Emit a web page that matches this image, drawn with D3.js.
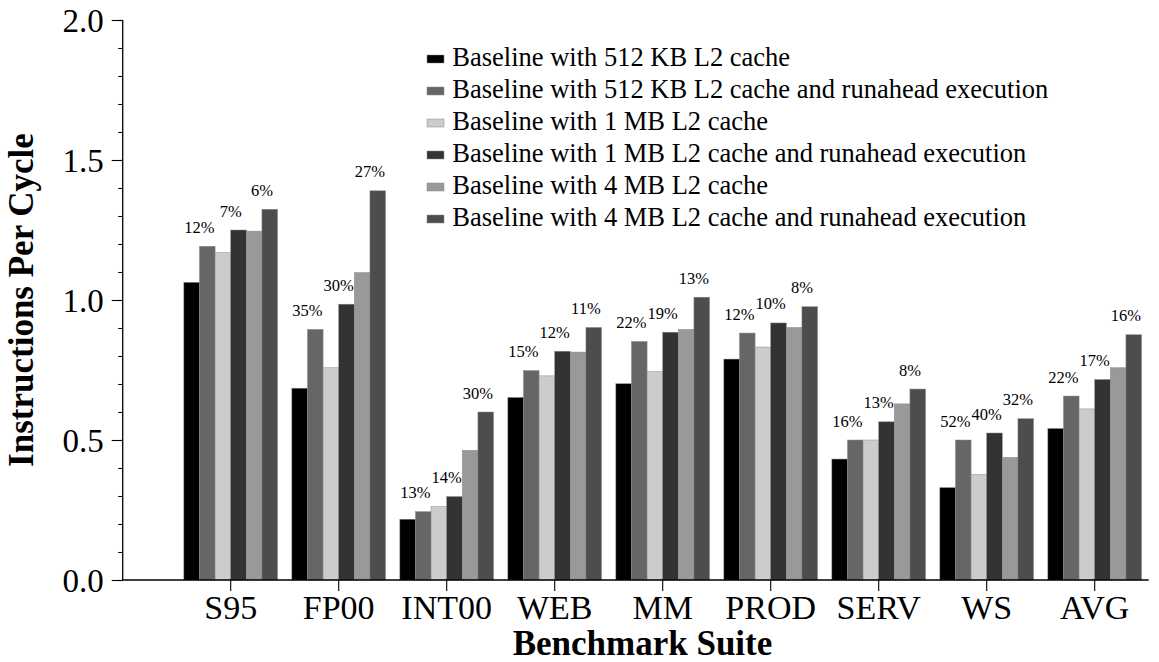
<!DOCTYPE html>
<html>
<head>
<meta charset="utf-8">
<script src="https://cdn.jsdelivr.net/npm/d3@7"></script>
<style>
  html, body { margin: 0; padding: 0; background: #fff; }
  svg { display: block; }
  text { font-family: "Liberation Serif", "Times New Roman", Times, serif; fill: #000; }
</style>
</head>
<body>
<svg id="chart" width="1159" height="662"></svg>
<script>
// Benchmark suites on the x axis
const categories = ["S95", "FP00", "INT00", "WEB", "MM", "PROD", "SERV", "WS", "AVG"];

// Series names (legend order)
const seriesNames = [
  "Baseline with 512 KB L2 cache",
  "Baseline with 512 KB L2 cache and runahead execution",
  "Baseline with 1 MB L2 cache",
  "Baseline with 1 MB L2 cache and runahead execution",
  "Baseline with 4 MB L2 cache",
  "Baseline with 4 MB L2 cache and runahead execution"
];

// Instructions per cycle, one array per configuration
const ipc512 =   [1.063, 0.685, 0.217, 0.652, 0.701, 0.789, 0.432, 0.330, 0.541];
const ipc512ra = [1.192, 0.895, 0.244, 0.748, 0.852, 0.882, 0.500, 0.500, 0.657];
const ipc1m =    [1.169, 0.758, 0.262, 0.729, 0.744, 0.832, 0.500, 0.377, 0.611];
const ipc1mra =  [1.250, 0.985, 0.298, 0.817, 0.885, 0.918, 0.565, 0.525, 0.716];
const ipc4m =    [1.246, 1.098, 0.463, 0.814, 0.895, 0.902, 0.629, 0.438, 0.758];
const ipc4mra =  [1.324, 1.390, 0.600, 0.902, 1.010, 0.976, 0.682, 0.576, 0.876];

// Runahead speedup labels over each runahead bar
const gain512 = ["12%", "35%", "13%", "15%", "22%", "12%", "16%", "52%", "22%"];
const gain1m =  ["7%", "30%", "14%", "12%", "19%", "10%", "13%", "40%", "17%"];
const gain4m =  ["6%", "27%", "30%", "11%", "13%", "8%", "8%", "32%", "16%"];

// Y axis tick labels
const yMajorTicks = [0, 0.5, 1.0, 1.5, 2.0];

const seriesValues = [ipc512, ipc512ra, ipc1m, ipc1mra, ipc4m, ipc4mra];
const seriesColors = ["#000000", "#666666", "#cccccc", "#333333", "#999999", "#4d4d4d"];
const gainLabels = [null, gain512, null, gain1m, null, gain4m];

const svg = d3.select("#chart");

const axisX = 122.7, plotTop = 20, plotBottom = 580;

const y = d3.scaleLinear().domain([0, 2]).range([plotBottom, plotTop]);
const x = d3.scaleBand().domain(categories).range([176.7, 1148.7])
  .paddingInner(0.1324).paddingOuter(0.0662);
const xs = d3.scaleBand().domain(d3.range(seriesValues.length)).range([0, x.bandwidth()]);

// Bars
const groups = svg.append("g").selectAll("g")
  .data(categories)
  .join("g")
  .attr("transform", d => `translate(${x(d)},0)`);

groups.selectAll("rect")
  .data((c, ci) => seriesValues.map((vals, si) => ({ si, v: vals[ci] })))
  .join("rect")
  .attr("x", d => xs(d.si))
  .attr("y", d => y(d.v))
  .attr("width", xs.bandwidth())
  .attr("height", d => y(0) - y(d.v))
  .attr("fill", d => seriesColors[d.si])
  .attr("stroke", "#8a8a8a")
  .attr("stroke-width", 0.5);

// Speedup labels, centred on the left edge of each runahead bar
groups.selectAll("text.gain")
  .data((c, ci) => gainLabels
    .map((labels, si) => labels ? { si, v: seriesValues[si][ci], t: labels[ci] } : null)
    .filter(Boolean))
  .join("text")
  .attr("class", "gain")
  .attr("x", d => xs(d.si))
  .attr("y", d => y(d.v) - 13.5)
  .attr("text-anchor", "middle")
  .style("font-size", "16.5px")
  .text(d => d.t);

// Y axis: minor ticks every 0.1, labelled major ticks every 0.5
const yMinor = svg.append("g")
  .attr("transform", `translate(${axisX},0)`)
  .call(d3.axisLeft(y).tickValues(d3.range(0, 2.001, 0.1)).tickSize(4.5).tickFormat(""));
yMinor.select(".domain").remove();

const yMajor = svg.append("g")
  .attr("transform", `translate(${axisX},0)`)
  .call(d3.axisLeft(y).tickValues(yMajorTicks).tickSize(11).tickPadding(8)
    .tickFormat(d3.format(".1f")));
yMajor.select(".domain").attr("stroke-width", 1.3).attr("d", `M0,${plotTop}V${plotBottom}`);
yMajor.selectAll(".tick text")
  .style("font-size", "33px")
  .style("font-family", "'Liberation Serif', 'Times New Roman', serif")
  .attr("dy", "0.34em");
svg.selectAll(".tick line").attr("stroke", "#000").attr("stroke-width", 1.1);

// X axis
const xAxis = svg.append("g")
  .attr("transform", `translate(0,${plotBottom})`)
  .call(d3.axisBottom(x).tickSize(11).tickSizeOuter(0));
xAxis.select(".domain")
  .attr("d", `M${axisX},0H${x.range()[1]}`)
  .attr("stroke-width", 1.3);
xAxis.selectAll(".tick line").attr("stroke-width", 1.1);
xAxis.selectAll(".tick text")
  .attr("y", 39)
  .attr("dy", null)
  .style("font-size", "34px")
  .style("font-family", "'Liberation Serif', 'Times New Roman', serif");

// Axis titles
svg.append("text")
  .attr("x", 642.5)
  .attr("y", 655)
  .attr("text-anchor", "middle")
  .style("font-size", "35px")
  .style("font-weight", "bold")
  .text("Benchmark Suite");

svg.append("text")
  .attr("transform", "translate(33,300) rotate(-90)")
  .attr("text-anchor", "middle")
  .style("font-size", "35px")
  .style("font-weight", "bold")
  .text("Instructions Per Cycle");

// Legend
const legend = svg.append("g").selectAll("g")
  .data(seriesNames)
  .join("g")
  .attr("transform", (d, i) => `translate(427,${66 + 32 * i})`);

legend.append("rect")
  .attr("x", 0)
  .attr("y", -11)
  .attr("width", 17)
  .attr("height", 8)
  .attr("fill", (d, i) => seriesColors[i])
  .attr("stroke", "#8a8a8a")
  .attr("stroke-width", 0.5);

legend.append("text")
  .attr("x", 25.3)
  .attr("y", 0)
  .style("font-size", "26.5px")
  .text(d => d);
</script>
</body>
</html>
